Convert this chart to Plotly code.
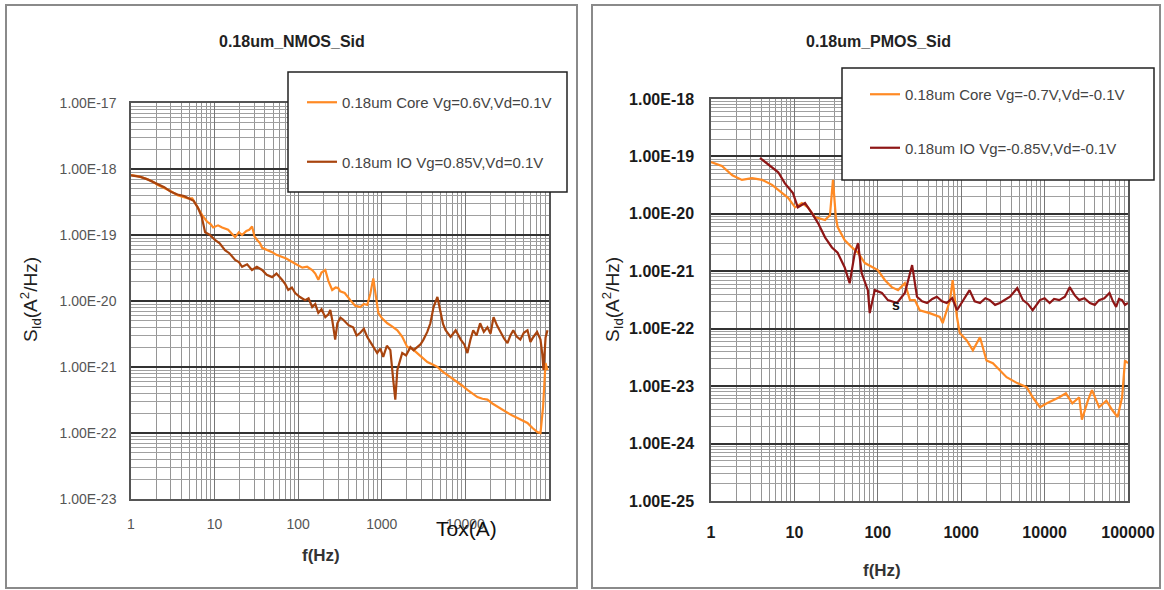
import plotly.graph_objects as go

# ---------------- data ----------------
nmos_core_f = [1, 1.2, 1.5, 1.8, 2.1, 2.5, 3.0, 3.6, 4.2, 4.8,
               5.4, 6.2, 7.1, 8.1, 9.0, 9.6, 11, 12.3, 13.5, 14.5,
               16, 17.6, 19.5, 21.3, 24, 26, 28.1, 30, 32.3, 35,
               37, 42, 48.8, 55, 64.3, 72, 84.8, 95, 112, 128,
               147, 160, 174, 190, 211, 230, 255, 280, 301, 318,
               360, 420, 480, 553, 610, 670, 730, 791, 850, 908,
               1000, 1164, 1300, 1534, 1750, 2020, 2300, 2663, 3000, 3508,
               4000, 4624, 5300, 6085, 7000, 8020, 9200, 10570, 12000, 13930,
               16000, 18340, 21000, 24170, 28000, 31850, 36000, 41970, 48000, 55300,
               63000, 72800, 79100, 85000, 90800, 95900]
nmos_core_s = [8.1e-19, 7.8e-19, 7.2e-19, 6.5e-19, 5.7e-19, 5.2e-19, 4.6e-19, 4.0e-19, 3.8e-19, 3.6e-19,
               3.6e-19, 2.7e-19, 2.0e-19, 1.6e-19, 1.45e-19, 1.3e-19, 1.4e-19, 1.3e-19, 1.25e-19, 1.2e-19,
               1.05e-19, 9.3e-20, 1.1e-19, 1.0e-19, 1.15e-19, 1.2e-19, 1.35e-19, 9.5e-20, 8.4e-20, 7.5e-20,
               6.4e-20, 6.0e-20, 5.5e-20, 5.0e-20, 4.6e-20, 4.4e-20, 3.9e-20, 3.6e-20, 3.2e-20, 3.3e-20,
               2.95e-20, 2.6e-20, 2.1e-20, 2.7e-20, 2.95e-20, 2.0e-20, 1.47e-20, 1.6e-20, 1.57e-20, 1.4e-20,
               1.32e-20, 1.03e-20, 8.5e-21, 8.1e-21, 9.0e-21, 8.7e-21, 1.3e-20, 2.2e-20, 1.2e-20, 6.6e-21,
               5.5e-21, 4.6e-21, 4.2e-21, 3.6e-21, 2.9e-21, 2.0e-21, 1.9e-21, 1.63e-21, 1.4e-21, 1.19e-21,
               1.1e-21, 1.0e-21, 8.6e-22, 7.6e-22, 6.8e-22, 5.9e-22, 5.2e-22, 4.5e-22, 4.0e-22, 3.5e-22,
               3.3e-22, 3.2e-22, 2.8e-22, 2.5e-22, 2.2e-22, 2.0e-22, 1.85e-22, 1.69e-22, 1.55e-22, 1.42e-22,
               1.2e-22, 1.03e-22, 1.0e-22, 2.5e-22, 1.15e-21, 9.0e-22]

nmos_io_f = [1, 1.3, 1.6, 2.0, 2.5, 3.0, 3.6, 4.3, 5.0, 5.6,
             6.3, 7.0, 7.7, 8.8, 10.1, 11.5, 13.3, 15.0, 17.6, 19.5,
             21.3, 24.5, 28, 32, 37, 42, 48.8, 55, 64, 70,
             76, 84, 92, 105, 121, 133, 147, 160, 174, 190,
             211, 230, 242, 255, 277, 294, 320, 346, 400, 454,
             500, 553, 610, 670, 760, 880, 960, 1040, 1150, 1266,
             1370, 1450, 1534, 1650, 1755, 1950, 2200, 2400, 2663, 2900,
             3150, 3500, 3810, 4160, 4624, 5040, 5400, 5800, 6650, 7650,
             8800, 9700, 10570, 11500, 12400, 13600, 15000, 16600, 18340, 20000,
             21700, 24000, 26300, 29000, 31850, 34500, 37400, 41000, 45400, 50000,
             55300, 60000, 65000, 72000, 79100, 83000, 86000, 91000, 95900]
nmos_io_s = [8.0e-19, 7.6e-19, 6.9e-19, 6.0e-19, 5.3e-19, 4.5e-19, 4.1e-19, 3.9e-19, 3.6e-19, 3.3e-19,
             2.6e-19, 1.9e-19, 1.1e-19, 1.0e-19, 8.4e-20, 7.5e-20, 5.9e-20, 5.3e-20, 4.2e-20, 3.9e-20,
             3.3e-20, 3.6e-20, 2.95e-20, 3.3e-20, 2.95e-20, 2.5e-20, 2.3e-20, 2.6e-20, 2.1e-20, 1.8e-20,
             1.47e-20, 1.6e-20, 1.32e-20, 1.15e-20, 1.03e-20, 1.1e-20, 8.1e-21, 9.0e-21, 6.6e-21, 7.5e-21,
             5.7e-21, 6.3e-21, 7.3e-21, 5.2e-21, 2.6e-21, 4.6e-21, 5.6e-21, 5.2e-21, 4.3e-21, 4.0e-21,
             3.0e-21, 3.3e-21, 3.8e-21, 2.85e-21, 2.2e-21, 1.63e-21, 1.9e-21, 1.42e-21, 2.1e-21, 1.8e-21,
             6.4e-22, 3.2e-22, 9.0e-22, 1.3e-21, 1.63e-21, 1.5e-21, 2.0e-21, 1.8e-21, 2.0e-21, 2.2e-21,
             2.6e-21, 3.4e-21, 4.6e-21, 8.1e-21, 1.15e-20, 6.6e-21, 4.5e-21, 3.6e-21, 2.85e-21, 3.6e-21,
             2.6e-21, 2.2e-21, 1.63e-21, 2.6e-21, 3.6e-21, 3.0e-21, 4.6e-21, 3.4e-21, 4.0e-21, 3.2e-21,
             5.7e-21, 4.2e-21, 3.3e-21, 2.7e-21, 2.3e-21, 3.0e-21, 3.6e-21, 2.9e-21, 2.6e-21, 3.3e-21,
             3.6e-21, 2.4e-21, 2.85e-21, 3.4e-21, 2.6e-21, 1.6e-21, 9.0e-22, 2.8e-21, 3.6e-21]

pmos_core_f = [1, 1.35, 1.8, 2.35, 3.1, 4.1, 5.4, 7.1, 8.4, 10.2,
               12.3, 14.5, 17.6, 23.3, 26.7, 29, 31.4, 33, 40, 49,
               58, 70, 85, 100, 122, 147, 175, 211, 243, 278,
               318, 418, 555, 600, 735, 790, 890, 960, 1160, 1380,
               1680, 2010, 2400, 2900, 3500, 4700, 6100, 7200, 8800, 10500,
               12500, 15000, 18000, 21500, 26000, 28000, 33000, 37000, 45000, 55000,
               65000, 75000, 85000, 92000, 100000]
pmos_core_s = [8.0e-20, 6.8e-20, 4.7e-20, 3.9e-20, 4.2e-20, 3.9e-20, 3.2e-20, 2.3e-20, 1.9e-20, 1.3e-20,
               1.54e-20, 1.3e-20, 8.8e-21, 7.8e-21, 9.5e-21, 3.9e-20, 8.8e-21, 5.9e-21, 3.5e-21, 2.6e-21,
               2.1e-21, 1.39e-21, 1.18e-21, 1.05e-21, 7.0e-22, 5.3e-22, 4.7e-22, 6.2e-22, 3.15e-22, 3.15e-22,
               2.1e-22, 1.87e-22, 1.6e-22, 1.25e-22, 3.15e-22, 7.0e-22, 1.6e-22, 8.4e-23, 6.3e-23, 4.2e-23,
               7.1e-23, 2.8e-23, 2.5e-23, 1.9e-23, 1.43e-23, 1.13e-23, 9.6e-24, 6.4e-24, 4.3e-24, 5.0e-24,
               5.6e-24, 6.4e-24, 7.5e-24, 5.0e-24, 6.4e-24, 2.6e-24, 5.6e-24, 8.5e-24, 4.3e-24, 5.6e-24,
               3.8e-24, 2.9e-24, 6.4e-24, 2.8e-23, 2.5e-23]

pmos_io_f = [3.87, 5.4, 6.4, 7.7, 9.6, 11, 13.4, 16.2, 19.2, 23.3,
             28.2, 33, 40, 46, 53, 58, 64, 76, 80, 92,
             112, 132, 170, 211, 258, 295, 340, 390, 450, 510,
             590, 670, 780, 890, 1050, 1260, 1450, 1680, 1950, 2200,
             2550, 2900, 3350, 3850, 4700, 5500, 6300, 7200, 8800, 10000,
             11500, 13000, 15000, 17500, 20000, 23000, 26000, 30000, 35000, 40000,
             45000, 52000, 60000, 66000, 72000, 78000, 85000, 92000, 100000]
pmos_io_s = [9.4e-20, 6.3e-20, 5.3e-20, 3.4e-20, 2.3e-20, 1.3e-20, 1.54e-20, 1.03e-20, 6.9e-21, 3.9e-21,
             2.6e-21, 2.1e-21, 1.18e-21, 6.2e-22, 2.1e-21, 3.1e-21, 9.3e-22, 4.7e-22, 1.87e-22, 4.7e-22,
             4.2e-22, 3.15e-22, 2.8e-22, 4.2e-22, 1.28e-21, 3.6e-22, 3.0e-22, 2.8e-22, 3.3e-22, 3.6e-22,
             3.0e-22, 2.8e-22, 3.4e-22, 2.1e-22, 3.15e-22, 4.7e-22, 3.0e-22, 2.8e-22, 3.4e-22, 3.15e-22,
             2.6e-22, 2.8e-22, 3.2e-22, 3.6e-22, 5.1e-22, 3.15e-22, 2.7e-22, 2.1e-22, 3.15e-22, 3.4e-22,
             2.8e-22, 3.3e-22, 3.15e-22, 3.6e-22, 5.3e-22, 3.8e-22, 3.15e-22, 3.4e-22, 2.8e-22, 2.6e-22,
             3.15e-22, 3.4e-22, 4.2e-22, 3.0e-22, 2.4e-22, 3.3e-22, 3.15e-22, 2.6e-22, 2.8e-22]

nmos_names = ["0.18um Core Vg=0.6V,Vd=0.1V", "0.18um IO Vg=0.85V,Vd=0.1V"]
pmos_names = ["0.18um Core Vg=-0.7V,Vd=-0.1V", "0.18um IO Vg=-0.85V,Vd=-0.1V"]

x_tick_vals = [1, 10, 100, 1000, 10000, 100000]
nmos_x_tick_text = ["1", "10", "100", "1000", "10000", ""]
pmos_x_tick_text = ["1", "10", "100", "1000", "10000", "100000"]
nmos_y_tick_vals = [1e-17, 1e-18, 1e-19, 1e-20, 1e-21, 1e-22, 1e-23]
nmos_y_tick_text = ["1.00E-17", "1.00E-18", "1.00E-19", "1.00E-20", "1.00E-21", "1.00E-22", "1.00E-23"]
pmos_y_tick_vals = [1e-18, 1e-19, 1e-20, 1e-21, 1e-22, 1e-23, 1e-24, 1e-25]
pmos_y_tick_text = ["1.00E-18", "1.00E-19", "1.00E-20", "1.00E-21", "1.00E-22", "1.00E-23", "1.00E-24", "1.00E-25"]

assert len(nmos_core_f) == len(nmos_core_s)
assert len(nmos_io_f) == len(nmos_io_s)
assert len(pmos_core_f) == len(pmos_core_s)
assert len(pmos_io_f) == len(pmos_io_s)

# ---------------- layout helpers ----------------
W, H = 1164, 590
def px(x):
    return x / W
def py(y):
    return 1 - y / H

ORANGE = "#FF8A24"
NMOS_IO = "#A8440E"
PMOS_IO = "#8E1616"
FONT = "Arial, Liberation Sans, sans-serif"
LW = 2.2

fig = go.Figure()
fig.add_trace(go.Scatter(x=nmos_core_f, y=nmos_core_s, mode="lines", name=nmos_names[0],
                         line=dict(color=ORANGE, width=LW), xaxis="x", yaxis="y",
                         legend="legend", legendgroup="a"))
fig.add_trace(go.Scatter(x=nmos_io_f, y=nmos_io_s, mode="lines", name=nmos_names[1],
                         line=dict(color=NMOS_IO, width=LW), xaxis="x", yaxis="y",
                         legend="legend", legendgroup="b"))
fig.add_trace(go.Scatter(x=pmos_core_f, y=pmos_core_s, mode="lines", name=pmos_names[0],
                         line=dict(color=ORANGE, width=LW), xaxis="x2", yaxis="y2",
                         legend="legend2", legendgroup="c"))
fig.add_trace(go.Scatter(x=pmos_io_f, y=pmos_io_s, mode="lines", name=pmos_names[1],
                         line=dict(color=PMOS_IO, width=LW), xaxis="x2", yaxis="y2",
                         legend="legend2", legendgroup="d"))

minor_x = dict(dtick="D1", showgrid=True, gridcolor="#959595", gridwidth=1, ticks="")
minor_y = dict(dtick="D1", showgrid=True, gridcolor="#a0a0a0", gridwidth=1, ticks="")

common_x = dict(type="log", dtick=1, showgrid=True, gridcolor="#777777", gridwidth=1.2,
                showline=True, linecolor="#555555", linewidth=1.5, mirror=True,
                ticks="", zeroline=False, minor=minor_x, automargin=False)
common_y = dict(type="log", dtick=1, showgrid=True, gridcolor="#333333", gridwidth=1.6,
                showline=True, linecolor="#555555", linewidth=1.5, mirror=True,
                ticks="", zeroline=False, minor=minor_y, automargin=False)

fig.update_layout(
    width=W, height=H, autosize=False,
    margin=dict(l=0, r=0, t=0, b=0, pad=0, autoexpand=False),
    paper_bgcolor="white", plot_bgcolor="white",
    font=dict(family=FONT, color="#333333"),
    xaxis=dict(common_x, domain=[px(131), px(549)], range=[0, 5], anchor="y",
               tickvals=x_tick_vals, ticktext=nmos_x_tick_text,
               tickfont=dict(size=14, color="#555555"), ticklabelstandoff=11),
    yaxis=dict(common_y, domain=[py(499), py(103)], range=[-23, -17], anchor="x",
               tickvals=nmos_y_tick_vals, ticktext=nmos_y_tick_text,
               tickfont=dict(size=14, color="#555555"), ticklabelstandoff=10),
    xaxis2=dict(common_x, domain=[px(711), px(1128)], range=[0, 5], anchor="y2",
                tickvals=x_tick_vals, ticktext=pmos_x_tick_text,
                tickfont=dict(size=16, color="#1a1a1a", weight="bold"),
                ticklabelstandoff=16),
    yaxis2=dict(common_y, domain=[py(501), py(99)], range=[-25, -18], anchor="x2",
                tickvals=pmos_y_tick_vals, ticktext=pmos_y_tick_text,
                tickfont=dict(size=16, color="#1a1a1a", weight="bold"),
                ticklabelstandoff=12),
    legend=dict(x=px(302), y=py(86), xanchor="left", yanchor="top",
                bgcolor="rgba(0,0,0,0)", borderwidth=0, font=dict(size=15, color="#444444"),
                tracegroupgap=37, itemwidth=30),
    legend2=dict(x=px(865), y=py(78), xanchor="left", yanchor="top",
                 bgcolor="rgba(0,0,0,0)", borderwidth=0, font=dict(size=15, color="#444444"),
                 tracegroupgap=31, itemwidth=30),
    showlegend=True,
)

# panel frames and legend boxes
fig.add_shape(type="rect", xref="paper", yref="paper", x0=px(6), x1=px(577), y0=py(588), y1=py(5),
              line=dict(color="#8a8a8a", width=2), fillcolor="rgba(0,0,0,0)", layer="below")
fig.add_shape(type="rect", xref="paper", yref="paper", x0=px(592), x1=px(1160), y0=py(588), y1=py(5),
              line=dict(color="#8a8a8a", width=2), fillcolor="rgba(0,0,0,0)", layer="below")
fig.add_shape(type="rect", xref="paper", yref="paper", x0=px(288), x1=px(567), y0=py(192), y1=py(72),
              line=dict(color="#222222", width=1.5), fillcolor="white", layer="above")
fig.add_shape(type="rect", xref="paper", yref="paper", x0=px(842), x1=px(1154), y0=py(180), y1=py(68),
              line=dict(color="#222222", width=1.5), fillcolor="white", layer="above")

ann = [
    dict(text="<b>0.18um_NMOS_Sid</b>", x=px(292), y=py(42), font=dict(size=16, color="#222222")),
    dict(text="<b>0.18um_PMOS_Sid</b>", x=px(878), y=py(42), font=dict(size=16, color="#222222")),
    dict(text="S<sub>Id</sub>(A<sup>2</sup>/Hz)", x=px(30), y=py(300), textangle=-90,
         font=dict(size=19, color="#222222")),
    dict(text="S<sub>Id</sub>(A<sup>2</sup>/Hz)", x=px(612), y=py(300), textangle=-90,
         font=dict(size=19, color="#222222")),
    dict(text="<b>f(Hz)</b>", x=px(321), y=py(555), font=dict(size=17, color="#333333")),
    dict(text="<b>f(Hz)</b>", x=px(882), y=py(570), font=dict(size=17, color="#333333")),
    dict(text="Tox(A)", x=px(466), y=py(528), font=dict(size=21, color="#111111")),
    dict(text="<b>s</b>", x=px(896), y=py(305), font=dict(size=14, color="#111111")),
]
for a in ann:
    fig.add_annotation(xref="paper", yref="paper", showarrow=False, xanchor="center", yanchor="middle", **a)

fig.write_html("out.html", config={"displayModeBar": False, "responsive": False})

# remove the browser's default page margin so the 1164x590 figure fills the window exactly
with open("out.html", "r", encoding="utf-8") as fh:
    page = fh.read()
page = page.replace("<head>", "<head><style>html,body{margin:0;padding:0;overflow:hidden;}</style>", 1)
with open("out.html", "w", encoding="utf-8") as fh:
    fh.write(page)
